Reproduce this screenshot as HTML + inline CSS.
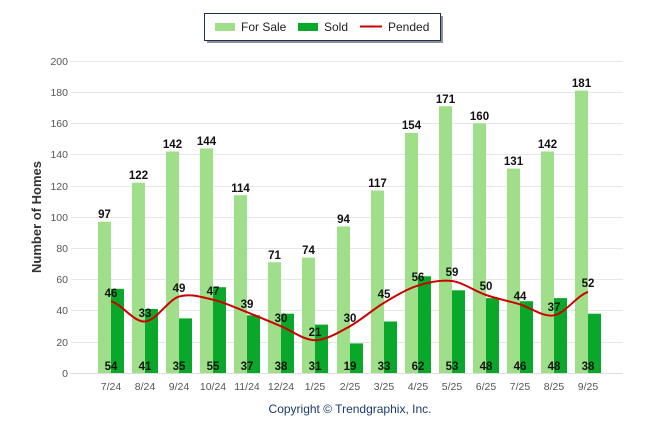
<!DOCTYPE html>
<html><head><meta charset="utf-8"><style>
body{margin:0;background:#fff;}
svg text{font-family:"Liberation Sans",Arial,sans-serif;}
</style></head><body>
<svg width="646" height="434" viewBox="0 0 646 434" xmlns="http://www.w3.org/2000/svg">
<rect width="646" height="434" fill="#fff"/>
<!-- legend -->
<rect x="207" y="16" width="236" height="27" fill="#8a8f99"/>
<rect x="204.5" y="13.5" width="236" height="27" fill="#fff" stroke="#1f2d50" stroke-width="1"/>
<rect x="215" y="23" width="20" height="8" fill="#a0df8a"/>
<text x="241" y="31" font-size="12" fill="#222">For Sale</text>
<rect x="298" y="23" width="20" height="8" fill="#0aa82a"/>
<text x="324" y="31" font-size="12" fill="#222">Sold</text>
<line x1="360" y1="26.5" x2="382" y2="26.5" stroke="#c00" stroke-width="2"/>
<text x="388" y="31" font-size="12" fill="#222">Pended</text>
<!-- grid -->
<g stroke="#e6e6e6" stroke-width="1">
<line x1="71" y1="61.5" x2="623" y2="61.5"/>
<line x1="71" y1="92.5" x2="623" y2="92.5"/>
<line x1="71" y1="123.5" x2="623" y2="123.5"/>
<line x1="71" y1="154.5" x2="623" y2="154.5"/>
<line x1="71" y1="186.5" x2="623" y2="186.5"/>
<line x1="71" y1="217.5" x2="623" y2="217.5"/>
<line x1="71" y1="248.5" x2="623" y2="248.5"/>
<line x1="71" y1="279.5" x2="623" y2="279.5"/>
<line x1="71" y1="310.5" x2="623" y2="310.5"/>
<line x1="71" y1="342.5" x2="623" y2="342.5"/>
<line x1="71" y1="373.5" x2="623" y2="373.5"/>
</g>
<g font-size="10.5" fill="#555" text-anchor="end">
<text x="68" y="65">200</text><text x="68" y="96">180</text><text x="68" y="127">160</text>
<text x="68" y="158">140</text><text x="68" y="190">120</text><text x="68" y="221">100</text>
<text x="68" y="252">80</text><text x="68" y="283">60</text><text x="68" y="314">40</text>
<text x="68" y="346">20</text><text x="68" y="377">0</text>
</g>
<text transform="translate(41,217) rotate(-90)" font-size="13" font-weight="bold" fill="#333" text-anchor="middle">Number of Homes</text>
<!-- for sale bars -->
<g fill="#a0df8a">
<rect x="98" y="221.7" width="13" height="151.3"/>
<rect x="132" y="182.7" width="13" height="190.3"/>
<rect x="166" y="151.5" width="13" height="221.5"/>
<rect x="200" y="148.4" width="13" height="224.6"/>
<rect x="234" y="195.2" width="13" height="177.8"/>
<rect x="268" y="262.2" width="13" height="110.8"/>
<rect x="302" y="257.6" width="13" height="115.4"/>
<rect x="337" y="226.4" width="13" height="146.6"/>
<rect x="371" y="190.5" width="13" height="182.5"/>
<rect x="405" y="132.8" width="13" height="240.2"/>
<rect x="439" y="106.2" width="13" height="266.8"/>
<rect x="473" y="123.4" width="13" height="249.6"/>
<rect x="507" y="168.6" width="13" height="204.4"/>
<rect x="541" y="151.5" width="13" height="221.5"/>
<rect x="575" y="90.6" width="13" height="282.4"/>
</g>
<g fill="#0aa82a">
<rect x="111" y="288.8" width="13" height="84.2"/>
<rect x="145" y="309" width="13" height="64"/>
<rect x="179" y="318.4" width="13" height="54.6"/>
<rect x="213" y="287.2" width="13" height="85.8"/>
<rect x="247" y="315.3" width="13" height="57.7"/>
<rect x="281" y="313.7" width="13" height="59.3"/>
<rect x="315" y="324.6" width="13" height="48.4"/>
<rect x="350" y="343.4" width="13" height="29.6"/>
<rect x="384" y="321.5" width="13" height="51.5"/>
<rect x="418" y="276.3" width="13" height="96.7"/>
<rect x="452" y="290.3" width="13" height="82.7"/>
<rect x="486" y="298.1" width="13" height="74.9"/>
<rect x="520" y="301.2" width="13" height="71.8"/>
<rect x="554" y="298.1" width="13" height="74.9"/>
<rect x="588" y="313.7" width="13" height="59.3"/>
</g>
<line x1="71" y1="373.5" x2="623" y2="373.5" stroke="#ddd"/>
<path d="M111,301.2 C122.3,304.6 133.7,322.3 145,321.5 C156.3,320.7 167.7,300.2 179,296.6 C190.3,293 201.7,297.1 213,299.7 C224.3,302.3 235.7,307.8 247,312.2 C258.3,316.6 269.7,321.5 281,326.2 C292.3,330.9 303.7,340.2 315,340.2 C326.3,340.2 338.7,332.4 350,326.2 C361.3,320 372.7,309.6 384,302.8 C395.3,296 406.7,289.2 418,285.6 C429.3,282 440.7,279.4 452,281 C463.3,282.6 474.7,291.1 486,295 C497.3,298.9 508.7,301 520,304.4 C531.3,307.8 542.7,317.4 554,315.3 C565.3,313.2 576.7,295.8 588,291.9" fill="none" stroke="#cc0000" stroke-width="2"/>
<g font-size="11.5" font-weight="bold" fill="#111" text-anchor="middle">
<text x="104.5" y="218">97</text><text x="138.5" y="179">122</text><text x="172.5" y="148">142</text>
<text x="206.5" y="145">144</text><text x="240.5" y="192">114</text><text x="274.5" y="259">71</text>
<text x="308.5" y="254">74</text><text x="343.5" y="223">94</text><text x="377.5" y="187">117</text>
<text x="411.5" y="129">154</text><text x="445.5" y="103">171</text><text x="479.5" y="120">160</text>
<text x="513.5" y="165">131</text><text x="547.5" y="148">142</text><text x="581.5" y="87">181</text>
<text x="111" y="297">46</text><text x="145" y="317">33</text><text x="179" y="292">49</text>
<text x="213" y="295">47</text><text x="247" y="308">39</text><text x="281" y="322">30</text>
<text x="315" y="336">21</text><text x="350" y="322">30</text><text x="384" y="298">45</text>
<text x="418" y="281">56</text><text x="452" y="276">59</text><text x="486" y="290">50</text>
<text x="520" y="300">44</text><text x="554" y="311">37</text><text x="588" y="287">52</text>
<text x="111" y="370">54</text><text x="145" y="370">41</text><text x="179" y="370">35</text>
<text x="213" y="370">55</text><text x="247" y="370">37</text><text x="281" y="370">38</text>
<text x="315" y="370">31</text><text x="350" y="370">19</text><text x="384" y="370">33</text>
<text x="418" y="370">62</text><text x="452" y="370">53</text><text x="486" y="370">48</text>
<text x="520" y="370">46</text><text x="554" y="370">48</text><text x="588" y="370">38</text>
</g>
<g font-size="10.5" fill="#555" text-anchor="middle">
<text x="111" y="390">7/24</text><text x="145" y="390">8/24</text><text x="179" y="390">9/24</text>
<text x="213" y="390">10/24</text><text x="247" y="390">11/24</text><text x="281" y="390">12/24</text>
<text x="315" y="390">1/25</text><text x="350" y="390">2/25</text><text x="384" y="390">3/25</text>
<text x="418" y="390">4/25</text><text x="452" y="390">5/25</text><text x="486" y="390">6/25</text>
<text x="520" y="390">7/25</text><text x="554" y="390">8/25</text><text x="588" y="390">9/25</text>
</g>
<text x="350" y="413" font-size="12" fill="#1f3a6a" text-anchor="middle">Copyright © Trendgraphix, Inc.</text>
</svg>
</body></html>
